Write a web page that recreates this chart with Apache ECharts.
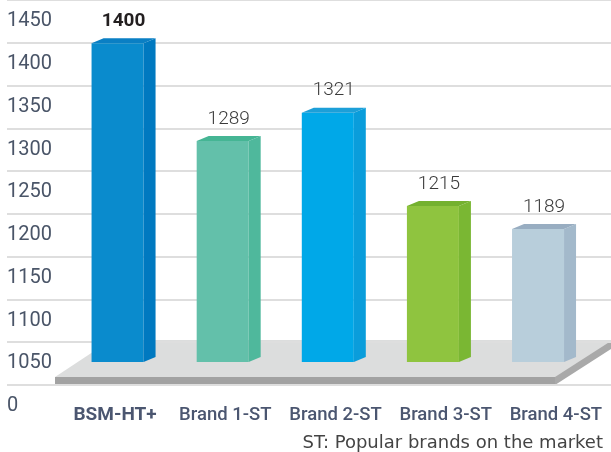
<!DOCTYPE html>
<html>
<head>
<meta charset="utf-8">
<script src="https://cdn.jsdelivr.net/npm/echarts@6/dist/echarts.min.js"></script>
<style>
  html, body { margin: 0; padding: 0; background: #fff; }
  #chart { width: 611px; height: 452px; }
</style>
</head>
<body>
<div id="chart"></div>
<script>
// data
const brands = ['BSM-HT+', 'Brand 1-ST', 'Brand 2-ST', 'Brand 3-ST', 'Brand 4-ST'];
const scores = [1400, 1289, 1321, 1215, 1189];
const tickLabels = ['0', '1050', '1100', '1150', '1200', '1250', '1300', '1350', '1400', '1450'];
const footnote = 'ST: Popular brands on the market';

// front / side / top colours for each bar
const faceColors = [
    ['#0a8bcd', '#0079c0', '#0a7fc4'],
    ['#63c0aa', '#4fb89c', '#45b594'],
    ['#00a8e8', '#0a9ddb', '#1c9fd8'],
    ['#8fc43f', '#7ab733', '#74b12f'],
    ['#b8cedb', '#a3b9cb', '#98adc1']
];

const valueMin = 1038;
const valueMax = 1449;

const chart = echarts.init(document.getElementById('chart'));

function renderBar(params, api) {
    const i = api.value(0);
    const top = api.coord([i, api.value(1)]);
    const base = api.coord([i, valueMin]);
    const w = 52, dx = 12, dy = 5;
    const x0 = top[0] - w / 2;
    const x1 = x0 + w;
    const c = faceColors[params.dataIndex];
    return {
        type: 'group',
        children: [
            {
                type: 'rect',
                shape: { x: x0, y: top[1], width: w, height: base[1] - top[1] },
                style: { fill: c[0] }
            },
            {
                type: 'polygon',
                shape: { points: [[x1, top[1]], [x1 + dx, top[1] - dy], [x1 + dx, base[1] - dy], [x1, base[1]]] },
                style: { fill: c[1] }
            },
            {
                type: 'polygon',
                shape: { points: [[x0, top[1]], [x0 + dx, top[1] - dy], [x1 + dx, top[1] - dy], [x1, top[1]]] },
                style: { fill: c[2] }
            },
            {
                type: 'text',
                x: x0 + (w + dx) / 2,
                y: top[1] - 22,
                style: {
                    text: String(api.value(1)),
                    align: 'center',
                    verticalAlign: 'middle',
                    fontFamily: 'Roboto',
                    fontSize: 19,
                    fontWeight: params.dataIndex === 0 ? 'bold' : 300,
                    fill: params.dataIndex === 0 ? '#231f20' : '#3a3a3a'
                }
            }
        ]
    };
}

const option = {
    animation: false,
    title: {
        text: footnote,
        right: 3,
        top: 429,
        textStyle: { fontFamily: 'DejaVu Sans', fontSize: 18, fontWeight: 'normal', color: '#444' }
    },
    grid: [
        // grid lines and value labels
        { left: 7, right: 0, top: -5, bottom: 24.5 },
        // bars
        { left: 65, right: 20.4, top: 0, bottom: 90 },
        // brand labels
        { left: 60, right: -7, top: 390, bottom: 52 }
    ],
    graphic: {
        z: 1,
        elements: [
            {
                type: 'polygon',
                shape: { points: [[55, 377], [111, 340], [620, 340], [564, 377]] },
                style: { fill: '#dcdddd' }
            },
            {
                type: 'polygon',
                shape: { points: [[55, 377], [555, 377], [555, 385], [55, 385]] },
                style: { fill: '#a2a2a2' }
            },
            {
                type: 'polygon',
                shape: { points: [[555, 377], [611, 341], [611, 349], [555, 385]] },
                style: { fill: '#a9a9a9' }
            }
        ]
    },
    xAxis: [
        { gridIndex: 0, type: 'value', show: false },
        { gridIndex: 1, type: 'category', data: brands, show: false },
        {
            gridIndex: 2,
            type: 'category',
            data: brands,
            axisLine: { show: false },
            axisTick: { show: false },
            axisLabel: {
                interval: 0,
                margin: 6,
                fontFamily: 'Roboto',
                fontSize: 18.5,
                fontWeight: 500,
                color: '#4b5670',
                formatter: (v, i) => i === 0 ? '{b|' + v + '}' : v,
                rich: {
                    b: { fontFamily: 'Roboto', fontSize: 19, fontWeight: 'bold', color: '#4b5670' }
                }
            }
        }
    ],
    yAxis: [
        {
            gridIndex: 0,
            type: 'category',
            data: tickLabels,
            axisLine: { show: false },
            axisTick: { show: false },
            axisLabel: {
                inside: true,
                margin: 0,
                padding: [6, 0, 0, 0],
                fontFamily: 'Roboto',
                fontSize: 20,
                color: '#4a5568'
            },
            splitLine: {
                show: true,
                interval: (i) => i !== 0,
                lineStyle: { color: '#dedede', width: 2 }
            }
        },
        { gridIndex: 1, type: 'value', min: valueMin, max: valueMax, show: false },
        { gridIndex: 2, type: 'value', show: false }
    ],
    series: [
        {
            type: 'custom',
            xAxisIndex: 1,
            yAxisIndex: 1,
            z: 5,
            renderItem: renderBar,
            data: scores.map((v, i) => [i, v])
        }
    ]
};

chart.setOption(option);
</script>
</body>
</html>
